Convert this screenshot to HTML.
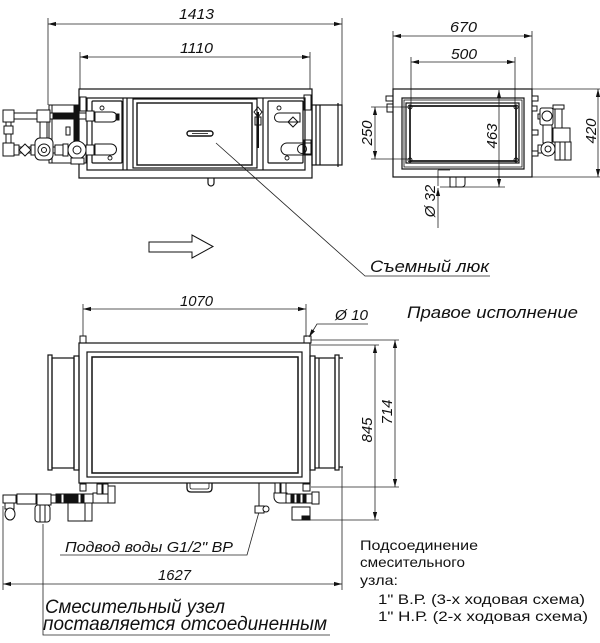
<!DOCTYPE html>
<html><head><meta charset="utf-8">
<style>
html,body{margin:0;padding:0;background:#fff;}
svg{display:block;}
text{font-family:"Liberation Sans","DejaVu Sans",sans-serif;fill:#111;stroke:none;}
.it{font-style:italic;}
</style></head><body>
<svg width="600" height="643" viewBox="0 0 600 643" xmlns="http://www.w3.org/2000/svg">
<defs>
<marker id="ar" viewBox="0 0 8 6" markerWidth="8" markerHeight="6" refX="8" refY="3" orient="auto-start-reverse" markerUnits="userSpaceOnUse"><path d="M0,0.9 L8,3 L0,5.1 z" fill="#111"/></marker>
</defs>

<!-- ================= DIMENSIONS & LEADERS ================= -->
<g fill="none" stroke="#222" stroke-width="0.8">
  <!-- 1413 -->
  <line x1="48" y1="24" x2="342" y2="24" marker-start="url(#ar)" marker-end="url(#ar)"/>
  <line x1="48" y1="18" x2="48" y2="105"/>
  <line x1="342" y1="18" x2="342" y2="105"/>
  <!-- 1110 -->
  <line x1="80" y1="57" x2="310" y2="57" marker-start="url(#ar)" marker-end="url(#ar)"/>
  <line x1="80" y1="52" x2="80" y2="89"/>
  <line x1="310" y1="52" x2="310" y2="89"/>
  <!-- 670 -->
  <line x1="393" y1="36" x2="532" y2="36" marker-start="url(#ar)" marker-end="url(#ar)"/>
  <line x1="393" y1="31" x2="393" y2="89"/>
  <line x1="532" y1="31" x2="532" y2="89"/>
  <!-- 500 -->
  <line x1="411" y1="62" x2="515" y2="62" marker-start="url(#ar)" marker-end="url(#ar)"/>
  <line x1="411" y1="57" x2="411" y2="106"/>
  <line x1="515" y1="57" x2="515" y2="106"/>
  <!-- 463 -->
  <line x1="499" y1="90" x2="499" y2="187" marker-start="url(#ar)" marker-end="url(#ar)"/>
  <line x1="440" y1="187" x2="505" y2="187"/>
  <!-- 420 -->
  <line x1="598" y1="89" x2="598" y2="177" marker-start="url(#ar)" marker-end="url(#ar)"/>
  <line x1="532" y1="89" x2="600" y2="89"/>
  <line x1="532" y1="177" x2="600" y2="177"/>
  <!-- 250 -->
  <line x1="375" y1="107" x2="375" y2="159" marker-start="url(#ar)" marker-end="url(#ar)"/>
  <line x1="371" y1="107" x2="410" y2="107"/>
  <line x1="371" y1="159" x2="410" y2="159"/>
  <!-- d32 -->
  <line x1="438" y1="170" x2="438" y2="186"/>
  <line x1="438" y1="228" x2="438" y2="188" marker-end="url(#ar)"/>
  <line x1="438" y1="170" x2="450" y2="170"/>
  <!-- 1070 -->
  <line x1="83" y1="309" x2="306" y2="309" marker-start="url(#ar)" marker-end="url(#ar)"/>
  <line x1="83" y1="304" x2="83" y2="336"/>
  <line x1="306" y1="304" x2="306" y2="337"/>
  <!-- d10 leader -->
  <polyline points="368,324 317,324 309,337" marker-end="url(#ar)"/>
  <!-- 845 -->
  <line x1="375" y1="345" x2="375" y2="520" marker-start="url(#ar)" marker-end="url(#ar)"/>
  <line x1="311" y1="345" x2="379" y2="345"/>
  <line x1="310" y1="520" x2="379" y2="520"/>
  <!-- 714 -->
  <line x1="395" y1="340" x2="395" y2="487" marker-start="url(#ar)" marker-end="url(#ar)"/>
  <line x1="311" y1="340" x2="399" y2="340"/>
  <line x1="311" y1="487" x2="399" y2="487"/>
  <!-- 1627 -->
  <line x1="3" y1="584" x2="342" y2="584" marker-start="url(#ar)" marker-end="url(#ar)"/>
  <line x1="3" y1="506" x2="3" y2="590"/>
  <line x1="342" y1="467" x2="342" y2="590"/>
  <!-- leaders -->
  <polyline points="216,143 365,276 490,276"/>
  <polyline points="259,512 247,555 60,555"/>
  <polyline points="43,524 43,635 330,635"/>
</g>

<!-- ================= TOP VIEW (front) ================= -->
<g fill="none" stroke="#111" stroke-width="1.2">
  <rect x="79" y="89" width="233" height="89"/>
  <rect x="87" y="98" width="218" height="72"/>
  <!-- left section -->
  <rect x="92" y="101" width="30" height="62" rx="1"/>
  <line x1="123" y1="98" x2="123" y2="170"/>
  <line x1="127" y1="98" x2="127" y2="170"/>
  <!-- door -->
  <rect x="133" y="99" width="124" height="69"/>
  <rect x="137" y="103" width="115" height="62" stroke-width="1.4"/>
  <line x1="263" y1="98" x2="263" y2="170"/>
  <!-- right section -->
  <rect x="268" y="101" width="35" height="62" rx="1"/>
  <circle cx="102" cy="108" r="2" stroke-width="0.9"/>
  <circle cx="110" cy="158" r="2" stroke-width="0.9"/>
  <circle cx="279" cy="108" r="2" stroke-width="0.9"/>
  <circle cx="287" cy="158" r="2" stroke-width="0.9"/>
  <!-- handle -->
  <rect x="187" y="131" width="26" height="5" rx="2.5" stroke-width="1.4"/>
  <line x1="192" y1="133.5" x2="208" y2="133.5" stroke-width="0.8"/>
  <!-- drain -->
  <path d="M208,178 v5 a3,3 0 0 0 6,0 v-5"/>
  <!-- corner brackets -->
  <rect x="80" y="97" width="6" height="14" stroke-width="1"/>
  <rect x="80" y="150" width="6" height="13" stroke-width="1"/>
  <rect x="304" y="95" width="7" height="15" stroke-width="1"/>
  <rect x="304" y="140" width="7" height="14" stroke-width="1"/>
  <!-- thermometer in right divider -->
  <line x1="258" y1="112" x2="258" y2="148" stroke-width="2"/>
  <polygon points="258,107 262,112 258,117 254,112" stroke-width="1"/>
  <rect x="255" y="117" width="6" height="8" stroke-width="1"/>
  <!-- right compartment fittings -->
  <path d="M300,113 h-21 a4.5,4.5 0 0 0 0,9 h21 z" stroke-width="1"/>
  <polygon points="293,117 298,122 293,127 288,122" stroke-width="1"/>
  <path d="M312,143 h-25 a6,6 0 0 0 0,12 h25 z" stroke-width="1"/>
  <circle cx="302" cy="149" r="4.5" stroke-width="1"/>
  <!-- right duct -->
  <rect x="312" y="105" width="30" height="60"/>
  <line x1="316" y1="105" x2="316" y2="165"/>
  <line x1="320" y1="105" x2="320" y2="165"/>
  <line x1="338" y1="103" x2="338" y2="167"/>
</g>

<!-- top-left pipework -->
<g fill="#fff" stroke="#111" stroke-width="1">
  <rect x="49" y="105" width="29" height="58"/>
  <line x1="52" y1="105" x2="52" y2="163"/>
  <line x1="74" y1="105" x2="74" y2="163"/>
  <rect x="14" y="113" width="81" height="6"/>
  <rect x="53" y="113" width="24" height="6" fill="#111"/>
  <rect x="37" y="110" width="13" height="12"/>
  <rect x="40" y="122" width="7" height="17"/>
  <rect x="3" y="110" width="11" height="12"/>
  <rect x="6" y="122" width="5" height="21"/>
  <rect x="4" y="126" width="9" height="8"/>
  <rect x="14" y="147" width="81" height="6"/>
  <rect x="3" y="143" width="11" height="13"/>
  <rect x="14" y="145" width="5" height="10"/>
  <polygon points="25,144 31,150 25,156 19,150"/>
  <rect x="31" y="145" width="5" height="10"/>
  <rect x="35" y="138" width="18" height="22" rx="5"/>
  <circle cx="44" cy="150" r="6"/>
  <circle cx="44" cy="150" r="2.5"/>
  <rect x="55" y="145" width="8" height="10"/>
  <rect x="63" y="144" width="5" height="12"/>
  <rect x="75" y="105" width="4" height="37" fill="#111"/>
  <circle cx="77" cy="150" r="9"/>
  <circle cx="77" cy="150" r="4"/>
  <rect x="71" y="158" width="13" height="6"/>
  <rect x="86" y="145" width="8" height="10"/>
  <rect x="86" y="111" width="8" height="10"/>
  <path d="M95,112 h17 a5,5 0 0 1 0,10 h-17 z"/>
  <rect x="116" y="114" width="3" height="6" fill="#111"/>
  <path d="M95,144 h16 a5.5,5.5 0 0 1 0,11 h-16 z"/>
  <rect x="66" y="127" width="4" height="8"/>
</g>

<!-- ================= SIDE VIEW ================= -->
<g fill="none" stroke="#111" stroke-width="1.2">
  <rect x="393" y="89" width="139" height="88"/>
  <rect x="402" y="98" width="122" height="71"/>
  <rect x="404" y="100" width="118" height="67" stroke-width="0.8"/>
  <rect x="406" y="103" width="113" height="60"/>
  <rect x="410" y="106" width="106" height="55" stroke-width="1.7"/>
  <circle cx="410" cy="107" r="2" stroke-width="0.9"/>
  <circle cx="516" cy="107" r="2" stroke-width="0.9"/>
  <circle cx="410" cy="160" r="2" stroke-width="0.9"/>
  <circle cx="516" cy="160" r="2" stroke-width="0.9"/>
  <rect x="386" y="96" width="7" height="5" stroke-width="1"/>
  <rect x="387" y="104" width="6" height="8" stroke-width="1"/>
  <path d="M450,177 v10 h12 a3,3 0 0 0 3,-3 v-7" stroke-width="1"/>
  <line x1="456" y1="177" x2="456" y2="187" stroke-width="0.8"/>
</g>
<g fill="#fff" stroke="#111" stroke-width="1">
  <rect x="532" y="96" width="6" height="5"/>
  <rect x="532" y="106" width="5" height="5"/>
  <rect x="532" y="130" width="6" height="5"/>
  <rect x="532" y="151" width="6" height="5"/>
  <rect x="538" y="114" width="4" height="5"/>
  <rect x="540" y="108" width="13" height="17" rx="2"/>
  <circle cx="547" cy="116" r="5"/>
  <rect x="543" y="125" width="9" height="18"/>
  <rect x="538" y="145" width="5" height="8"/>
  <circle cx="548" cy="149" r="7"/>
  <circle cx="548" cy="149" r="3"/>
  <rect x="555" y="107" width="7" height="22"/>
  <rect x="553" y="105" width="11" height="4"/>
  <rect x="553" y="128" width="17" height="14"/>
  <rect x="555" y="142" width="16" height="18"/>
  <line x1="560" y1="142" x2="560" y2="160"/>
  <line x1="565" y1="142" x2="565" y2="160"/>
</g>

<!-- flow arrow -->
<polygon points="149,242 192,242 192,235 213,246.5 192,258 192,252 149,252" fill="#fff" stroke="#111" stroke-width="1"/>

<!-- ================= PLAN VIEW ================= -->
<g fill="none" stroke="#111" stroke-width="1.2">
  <rect x="79" y="343" width="231" height="140"/>
  <rect x="87" y="352" width="215" height="125"/>
  <rect x="92" y="357" width="206" height="116" stroke-width="1.5"/>
  <!-- ducts -->
  <rect x="48" y="355" width="4" height="115"/>
  <rect x="52" y="358" width="22" height="110"/>
  <rect x="74" y="356" width="5" height="114"/>
  <rect x="310" y="356" width="5" height="114"/>
  <rect x="315" y="358" width="20" height="110"/>
  <line x1="319" y1="358" x2="319" y2="468"/>
  <rect x="335" y="355" width="4" height="115"/>
  <line x1="339" y1="358" x2="343" y2="358"/>
  <line x1="339" y1="467" x2="343" y2="467"/>
  <!-- bolts -->
  <rect x="80" y="336" width="6" height="7" stroke-width="1"/>
  <rect x="304" y="336" width="7" height="7" stroke-width="1"/>
  <rect x="80" y="484" width="6" height="7" stroke-width="1"/>
  <rect x="303" y="484" width="7" height="7" stroke-width="1"/>
  <!-- drain hook -->
  <path d="M187,483 v5 q0,4 4,4 h17 q4,0 4,-4 v-5" stroke-width="1.3"/>
  <path d="M190,483 v4 q0,2 2,2 h15 q2,0 2,-2 v-4" stroke-width="0.8"/>
</g>
<g fill="#fff" stroke="#111" stroke-width="1">
  <!-- left bottom pipework -->
  <rect x="3" y="495" width="13" height="8"/>
  <rect x="5" y="503" width="9" height="6"/>
  <ellipse cx="10" cy="514" rx="5" ry="6"/>
  <rect x="16" y="495" width="40" height="8"/>
  <rect x="17" y="494" width="19" height="10"/>
  <rect x="37" y="494" width="14" height="11"/>
  <rect x="35" y="505" width="15" height="17" rx="3"/>
  <line x1="40" y1="505" x2="40" y2="522"/>
  <line x1="45" y1="505" x2="45" y2="522"/>
  <rect x="56" y="494" width="37" height="9"/>
  <rect x="57" y="494" width="4" height="9" fill="#111"/>
  <rect x="64" y="495" width="14" height="7" fill="#111"/>
  <rect x="81" y="494" width="3" height="9" fill="#111"/>
  <rect x="68" y="503" width="24" height="18"/>
  <line x1="85" y1="503" x2="85" y2="521"/>
  <rect x="93" y="493" width="20" height="10"/>
  <rect x="97" y="484" width="5" height="10"/>
  <rect x="103" y="484" width="5" height="10"/>
  <rect x="108" y="486" width="7" height="17"/>
  <!-- right bottom pipework -->
  <line x1="259" y1="483" x2="259" y2="506"/>
  <rect x="255" y="506" width="9" height="7"/>
  <circle cx="266" cy="509" r="3"/>
  <rect x="275" y="483" width="5" height="10"/>
  <rect x="281" y="483" width="5" height="10"/>
  <path d="M274,493 h13 v10 h-7 a6,6 0 0 1 -6,-6 z"/>
  <rect x="286" y="494" width="27" height="9"/>
  <rect x="291" y="494" width="3" height="9" fill="#111"/>
  <rect x="297" y="494" width="3" height="9" fill="#111"/>
  <rect x="303" y="494" width="3" height="9" fill="#111"/>
  <rect x="312" y="492" width="7" height="12"/>
  <rect x="292" y="507" width="18" height="13"/>
  <rect x="302" y="516" width="8" height="4" fill="#111"/>
</g>

<!-- ================= TEXT ================= -->
<g class="it" font-size="15">
  <text x="179" y="19" textLength="35" lengthAdjust="spacingAndGlyphs">1413</text>
  <text x="180" y="53" textLength="33" lengthAdjust="spacingAndGlyphs">1110</text>
  <text x="450" y="32" textLength="27" lengthAdjust="spacingAndGlyphs">670</text>
  <text x="451" y="59" textLength="26" lengthAdjust="spacingAndGlyphs">500</text>
  <text x="180" y="306" textLength="33" lengthAdjust="spacingAndGlyphs">1070</text>
  <text x="335" y="320" textLength="33" lengthAdjust="spacingAndGlyphs">Ø 10</text>
  <text x="158" y="580" textLength="33" lengthAdjust="spacingAndGlyphs">1627</text>
  <text transform="translate(497,136) rotate(-90)" text-anchor="middle">463</text>
  <text transform="translate(596,131) rotate(-90)" text-anchor="middle">420</text>
  <text transform="translate(372,133) rotate(-90)" text-anchor="middle">250</text>
  <text transform="translate(435,201) rotate(-90)" text-anchor="middle">Ø 32</text>
  <text transform="translate(372,430) rotate(-90)" text-anchor="middle">845</text>
  <text transform="translate(392,412) rotate(-90)" text-anchor="middle">714</text>
</g>
<g class="it">
  <text x="370" y="272" font-size="17" textLength="119" lengthAdjust="spacingAndGlyphs">Съемный люк</text>
  <text x="407" y="318" font-size="17" textLength="171" lengthAdjust="spacingAndGlyphs">Правое исполнение</text>
  <text x="65" y="552" font-size="15" textLength="168" lengthAdjust="spacingAndGlyphs">Подвод воды G1/2" BP</text>
  <text x="45" y="613" font-size="19" textLength="180" lengthAdjust="spacingAndGlyphs">Смесительный узел</text>
  <text x="43" y="630" font-size="19" textLength="284" lengthAdjust="spacingAndGlyphs">поставляется отсоединенным</text>
</g>
<g font-size="14">
  <text x="360" y="550" textLength="118" lengthAdjust="spacingAndGlyphs">Подсоединение</text>
  <text x="360" y="567" textLength="105" lengthAdjust="spacingAndGlyphs">смесительного</text>
  <text x="360" y="585" textLength="38" lengthAdjust="spacingAndGlyphs">узла:</text>
  <text x="378" y="604" textLength="207" lengthAdjust="spacingAndGlyphs">1" В.Р. (3-х ходовая схема)</text>
  <text x="378" y="621" textLength="210" lengthAdjust="spacingAndGlyphs">1" Н.Р. (2-х ходовая схема)</text>
</g>
</svg>
</body></html>
